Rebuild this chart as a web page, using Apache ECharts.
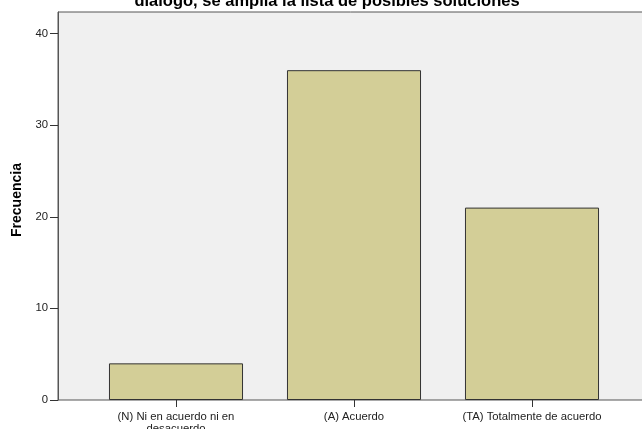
<!DOCTYPE html>
<html><head><meta charset="utf-8">
<script src="https://cdn.jsdelivr.net/npm/echarts@6/dist/echarts.min.js"></script>
<style>html,body{margin:0;padding:0;background:#fff}#c{width:642px;height:429px}</style>
</head><body><div id="c"></div>
<script>
const categories = ['(N) Ni en acuerdo ni en\ndesacuerdo', '(A) Acuerdo', '(TA) Totalmente de acuerdo'];
const frecuencia = [4, 36, 21];
const yTicks = [0, 10, 20, 30, 40];
const titleText = 'diálogo, se amplía la lista de posibles soluciones';
const yName = 'Frecuencia';

const chart = echarts.init(document.getElementById('c'), null, {renderer: 'canvas'});
const font = 'Liberation Sans, Arial, sans-serif';
chart.setOption({
  animation: false,
  backgroundColor: '#ffffff',
  title: {
    text: titleText, left: 327, textAlign: 'center', top: -7, padding: 0,
    textStyle: {fontFamily: font, fontSize: 16.5, fontWeight: 'bold', color: '#000'}
  },
  grid: [
    {left: 87, right: 21, top: 12, bottom: 29, show: false, outerBoundsMode: 'none', containLabel: false},
    {left: 58, right: -8, top: 12, bottom: 29, show: true, backgroundColor: '#f0f0f0', borderColor: '#555', borderWidth: 1, z: 0, outerBoundsMode: 'none', containLabel: false}
  ],
  xAxis: [
    {type: 'category', gridIndex: 0, data: categories,
     axisLine: {show: false},
     axisTick: {show: true, alignWithLabel: true, length: 7, lineStyle: {color: '#333'}},
     axisLabel: {fontFamily: font, fontSize: 11.3, color: '#222', margin: 11, lineHeight: 12, interval: 0}},
    {type: 'value', gridIndex: 1, show: false}
  ],
  yAxis: [
    {type: 'value', gridIndex: 0, min: 0, max: 42.35, interval: 10, offset: 29,
     name: yName, nameLocation: 'middle', nameGap: 33, nameRotate: 90,
     nameTextStyle: {fontFamily: font, fontSize: 14, fontWeight: 'bold', color: '#000', padding: [0, 0, 0, 12]},
     axisLine: {show: true, lineStyle: {color: '#555'}},
     axisTick: {show: true, length: 8, lineStyle: {color: '#333'}, customValues: yTicks},
     axisLabel: {fontFamily: font, fontSize: 11.3, color: '#222', margin: 10, customValues: yTicks},
     splitLine: {show: false}},
    {type: 'value', gridIndex: 1, show: false}
  ],
  series: [{
    type: 'bar', xAxisIndex: 0, yAxisIndex: 0, data: frecuencia,
    barCategoryGap: '24.7%', z: 3,
    itemStyle: {color: '#d3ce97', borderColor: '#333', borderWidth: 1}
  }]
});
</script></body></html>
